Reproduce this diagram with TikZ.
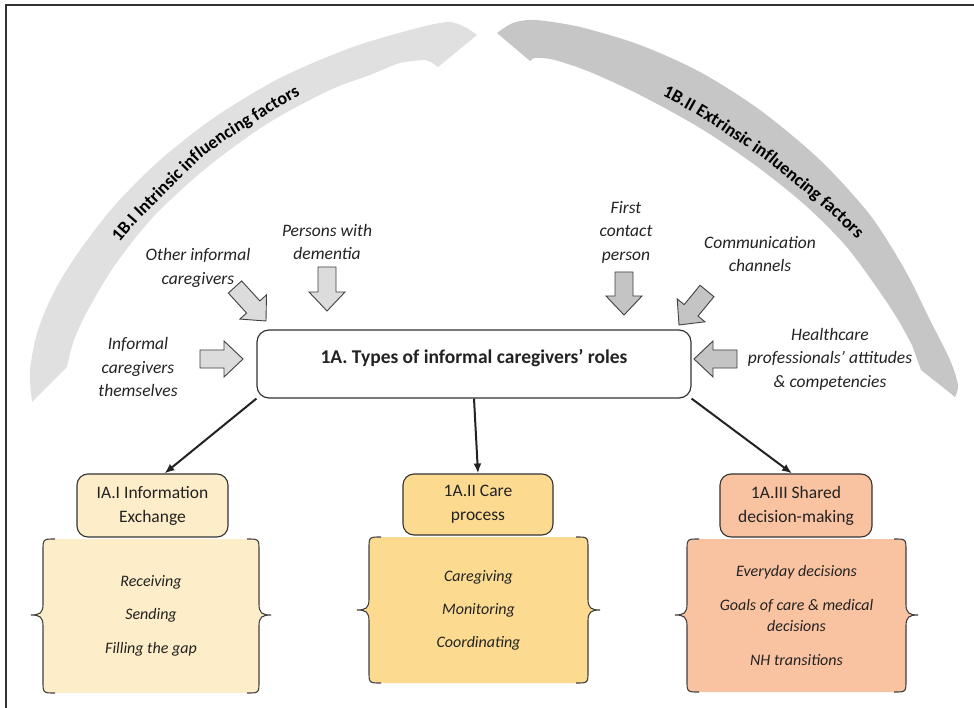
\documentclass[tikz,border=0pt]{standalone}
\usepackage{fontspec}
\setmainfont{Carlito}
\usetikzlibrary{calc,arrows.meta,decorations.text}
\definecolor{arcL}{HTML}{E0E0E0}
\definecolor{arcR}{HTML}{C6C6C6}
\definecolor{arrL}{HTML}{DCDCDC}
\definecolor{arrR}{HTML}{C4C4C4}
\definecolor{fillA}{HTML}{FDEDC8}
\definecolor{fillB}{HTML}{FCDB91}
\definecolor{fillC}{HTML}{F9C3A2}
\definecolor{edge}{HTML}{333333}
\definecolor{ink}{HTML}{222222}

\newcommand{\gblock}[4]{%
  \coordinate (#1-t) at (#3);
  \coordinate (#1-p) at (#4);
  \coordinate (#1-h) at ($(#1-p)!19pt!(#1-t)$);
  \draw[garr, fill=#2] ($(#1-t)!9pt!90:(#1-p)$) -- ($(#1-h)!9pt!90:(#1-p)$) -- ($(#1-h)!18pt!90:(#1-p)$) -- (#1-p) -- ($(#1-h)!18pt!-90:(#1-p)$) -- ($(#1-h)!9pt!-90:(#1-p)$) -- ($(#1-t)!9pt!-90:(#1-p)$) -- cycle;
}
% L T R B M fill
\newcommand{\bracepanel}[6]{%
  \fill[#6] ({#1+12},#2) -- ({#3-12},#2) .. controls (#3,#2) .. (#3,{#2+12}) -- (#3,{#5-11}) .. controls (#3,{#5-2}) and ({#3+3},#5) .. ({#3+12},#5) .. controls ({#3+3},#5) and (#3,{#5+2}) .. (#3,{#5+11}) -- (#3,{#4-12}) .. controls (#3,#4) .. ({#3-12},#4) -- ({#1+12},#4) .. controls (#1,#4) .. (#1,{#4-12}) -- (#1,{#5+11}) .. controls (#1,{#5+2}) and ({#1-3},#5) .. ({#1-12},#5) .. controls ({#1-3},#5) and (#1,{#5-2}) .. (#1,{#5-11}) -- (#1,{#2+12}) .. controls (#1,#2) .. ({#1+12},#2) -- cycle;
  \draw[brace] ({#3-12},#2) .. controls (#3,#2) .. (#3,{#2+12}) -- (#3,{#5-11}) .. controls (#3,{#5-2}) and ({#3+3},#5) .. ({#3+12},#5) .. controls ({#3+3},#5) and (#3,{#5+2}) .. (#3,{#5+11}) -- (#3,{#4-12}) .. controls (#3,#4) .. ({#3-12},#4);
  \draw[brace] ({#1+12},#4) .. controls (#1,#4) .. (#1,{#4-12}) -- (#1,{#5+11}) .. controls (#1,{#5+2}) and ({#1-3},#5) .. ({#1-12},#5) .. controls ({#1-3},#5) and (#1,{#5-2}) .. (#1,{#5-11}) -- (#1,{#2+12}) .. controls (#1,#2) .. ({#1+12},#2);
}

\begin{document}
\begin{tikzpicture}[x=1pt,y=-1pt,
  lbl/.style={font=\itshape\fontsize{17.5}{23.5}\selectfont, align=center, text=ink, inner sep=0pt},
  item/.style={font=\itshape\fontsize{16}{21}\selectfont, align=center, text=ink, inner sep=0pt},
  subbox/.style={draw=edge, line width=1.1pt, rounded corners=11pt, font=\fontsize{17.5}{24}\selectfont, align=center, inner sep=0pt, text=ink},
  mainbox/.style={draw=edge, line width=1.2pt, rounded corners=12pt, fill=white},
  conn/.style={line width=2pt, draw=ink, -{Latex[length=10pt,width=8pt]}},
  garr/.style={draw=black!75, line width=0.9pt, line join=miter},
  brace/.style={draw=black!75, line width=1.1pt},
  frameline/.style={draw=edge, line width=1.2pt}
]
\useasboundingbox (0,0) rectangle (974,708);
\draw[frameline] (6,710) -- (6,5) -- (976,5);

% influencing arcs
\fill[arcL] plot[smooth] coordinates {(32,402) (30,370) (38,330) (55,290) (80,250) (115,205) (160,160) (215,117) (280,78) (350,48) (410,30) (447,22) (465,27) (477,35)}
  -- (438,67) -- (431,62) -- plot[smooth] coordinates {(425,60) (400,63) (370,75) (330,90) (270,122) (210,165) (155,215) (115,265) (88,310) (74,340) (67,367)} -- cycle;
\fill[arcR] plot[smooth] coordinates {(497,33) (513,23) (535,20) (580,27) (640,45) (700,72) (760,110) (820,160) (870,215) (905,270) (930,320) (950,360) (958,385) (955,397)}
  -- (940,385) -- (921,370) -- plot[smooth] coordinates {(912,345) (897,318) (875,285) (845,245) (805,205) (755,165) (700,128) (640,95) (590,72) (555,60) (540,58)} -- (534,58) -- (530,61) -- cycle;

\path[decorate, decoration={text along path, text align=center, text={|\bfseries\fontsize{18}{20}\selectfont|1B.I Intrinsic influencing factors}}]
  (80,300) -- (99,271) -- (118,244) -- (138,221) -- (159,200) -- (180,179) -- (201,158) -- (226,140) -- (252,124) -- (277,108) -- (303,93) -- (334,79) -- (365,68);
\path[decorate, decoration={text along path, text align=center, text={|\bfseries\fontsize{18}{20}\selectfont|1B.II Extrinsic influencing factors}}]
  (605,72) -- (636,83) -- (667,98) -- (692,112) -- (718,128) -- (743,145) -- (768,162) -- (790,180) -- (812,198) -- (834,217) -- (855,237) -- (874,263) -- (891,291);

% block arrows
\gblock{a1}{arrL}{200,359}{243,359}
\gblock{a2}{arrL}{235,287}{266,321}
\gblock{a3}{arrL}{327,267}{327,311}
\gblock{a4}{arrR}{624,272}{624,315}
\gblock{a5}{arrR}{707,291}{679,325}
\gblock{a6}{arrR}{737,359}{694,359}

% labels
\node[lbl] (l1) at (138,367) {Informal\\caregivers\\themselves};
\node[lbl] (l2) at (198,268) {Other informal\\caregivers};
\node[lbl] (l3) at (327,242) {Persons with\\dementia};
\node[lbl] (l4) at (626,232) {First\\contact\\person};
\node[lbl] (l5) at (760,254) {Communication\\channels};
\node[lbl] (l6) at (830,359) {Healthcare\\professionals’ attitudes\\\& competencies};

% main box
\node[mainbox, minimum width=434pt, minimum height=68pt] (main) at (474,364) {};
\node[font=\bfseries\fontsize{19.5}{22}\selectfont, text=ink, inner sep=0pt] (title) at (474,358) {1A. Types of informal caregivers’ roles};

% brace panels
\bracepanel{43}{539}{259}{693}{615}{fillA}
\bracepanel{369}{537}{588}{683}{610}{fillB}
\bracepanel{687}{539}{906}{692}{615}{fillC}

% sub boxes
\node[subbox, fill=fillA, minimum width=151pt, minimum height=63pt] (ia) at (152.5,505.5) {IA.I Information\\Exchange};
\node[subbox, fill=fillB, minimum width=150pt, minimum height=61pt] (cp) at (478,504.5) {1A.II Care\\process};
\node[subbox, fill=fillC, minimum width=152pt, minimum height=63pt] (sdm) at (796,505.5) {1A.III Shared\\decision-making};

% connectors
\draw[conn] (main.south west) -- ([xshift=12pt]ia.north);
\draw[conn] (main.south) -- (cp.north);
\draw[conn] (main.south east) -- ([xshift=-4pt]sdm.north);

% items
\node[item] (i11) at (151,582) {Receiving};
\node[item] (i12) at (151,615) {Sending};
\node[item] (i13) at (151,649) {Filling the gap};
\node[item] (i21) at (478.5,577) {Caregiving};
\node[item] (i22) at (478.5,610) {Monitoring};
\node[item] (i23) at (478.5,643) {Coordinating};
\node[item] (i31) at (796.5,572) {Everyday decisions};
\node[item] (i32) at (796.5,615.5) {Goals of care \& medical\\decisions};
\node[item] (i33) at (796.5,660) {NH transitions};
\end{tikzpicture}
\end{document}
